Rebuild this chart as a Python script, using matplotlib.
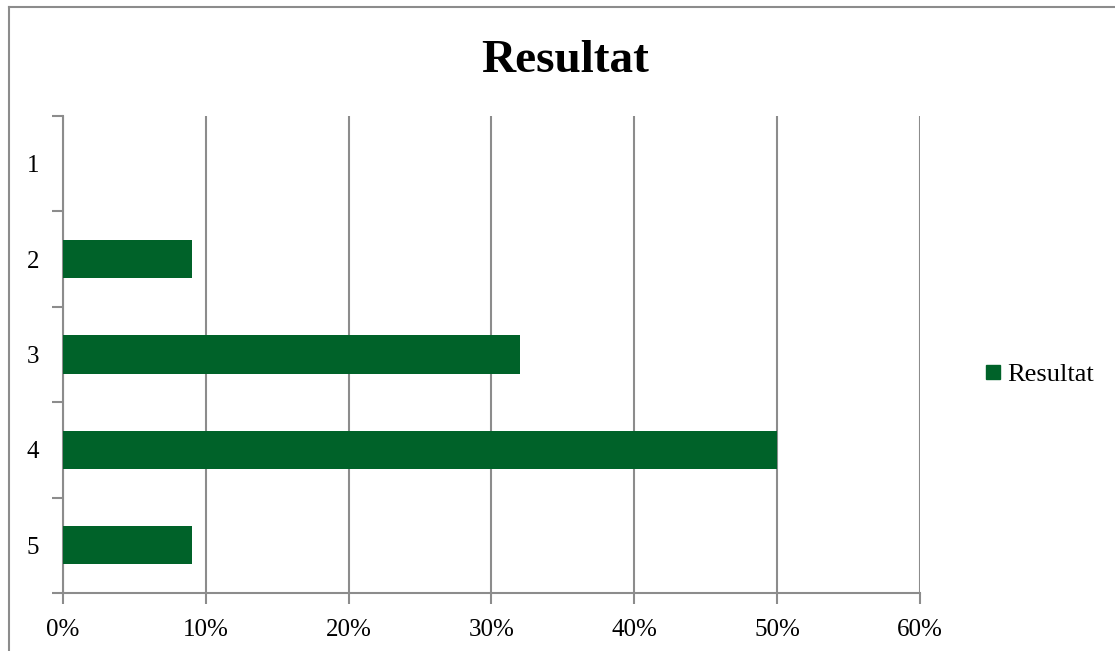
import numpy as np
import matplotlib.pyplot as plt
from matplotlib.lines import Line2D

categories = ['1', '2', '3', '4', '5']
values = [0.0, 0.09, 0.32, 0.50, 0.09]
xticks = [0, 0.1, 0.2, 0.3, 0.4, 0.5, 0.6]
series_name = 'Resultat'

plt.rcParams['font.family'] = ['Liberation Serif', 'DejaVu Serif']
green = '#006229'
gray = '#8c8c8c'

fig = plt.figure(figsize=(11.15, 6.51), dpi=100)
ax = fig.add_axes([63/1115, 1 - 593/651, (920 - 63)/1115, (593 - 116)/651])

pos = np.arange(len(categories))
ax.barh(pos, values, height=0.4, color=green, zorder=3)

ax.set_xlim(0, 0.6)
ax.set_ylim(len(categories) - 0.5, -0.5)
ax.set_xticks(xticks)
ax.set_xticklabels(['{:.0f}%'.format(v * 100) for v in xticks], fontsize=18)

# category labels in the middle, tick marks on the boundaries
ax.set_yticks(np.arange(len(categories) + 1) - 0.5)
ax.set_yticklabels([])
ax.set_yticks(pos, minor=True)
ax.set_yticklabels(categories, minor=True, fontsize=18)
ax.tick_params(axis='y', which='minor', length=0, pad=17)
ax.tick_params(axis='y', which='major', length=8, width=1.5, color=gray)
ax.tick_params(axis='x', length=8, width=1.5, color=gray, pad=11)

ax.grid(axis='x', color=gray, linewidth=1.5, zorder=0)
for s in ['top', 'right']:
    ax.spines[s].set_visible(False)
for s in ['left', 'bottom']:
    ax.spines[s].set_color(gray)
    ax.spines[s].set_linewidth(1.5)

fig.text(565/1115, 1 - 72/651, 'Resultat', ha='center', va='baseline',
         fontsize=34, fontweight='bold')

handle = Line2D([], [], marker='s', linestyle='none', markersize=10,
                markerfacecolor=green, markeredgecolor=green)
fig.legend([handle], [series_name], loc='center left',
           bbox_to_anchor=(956/1115, 1 - 374/651), frameon=False,
           fontsize=19, handletextpad=0.05, handlelength=1.0)

# outer chart border
fig.add_artist(Line2D([9/1115, 9/1115], [0, 1 - 7/651], transform=fig.transFigure,
                      color=gray, linewidth=1.5))
fig.add_artist(Line2D([9/1115, 1], [1 - 7/651, 1 - 7/651], transform=fig.transFigure,
                      color=gray, linewidth=1.5))

plt.savefig('out.png', dpi=100)
